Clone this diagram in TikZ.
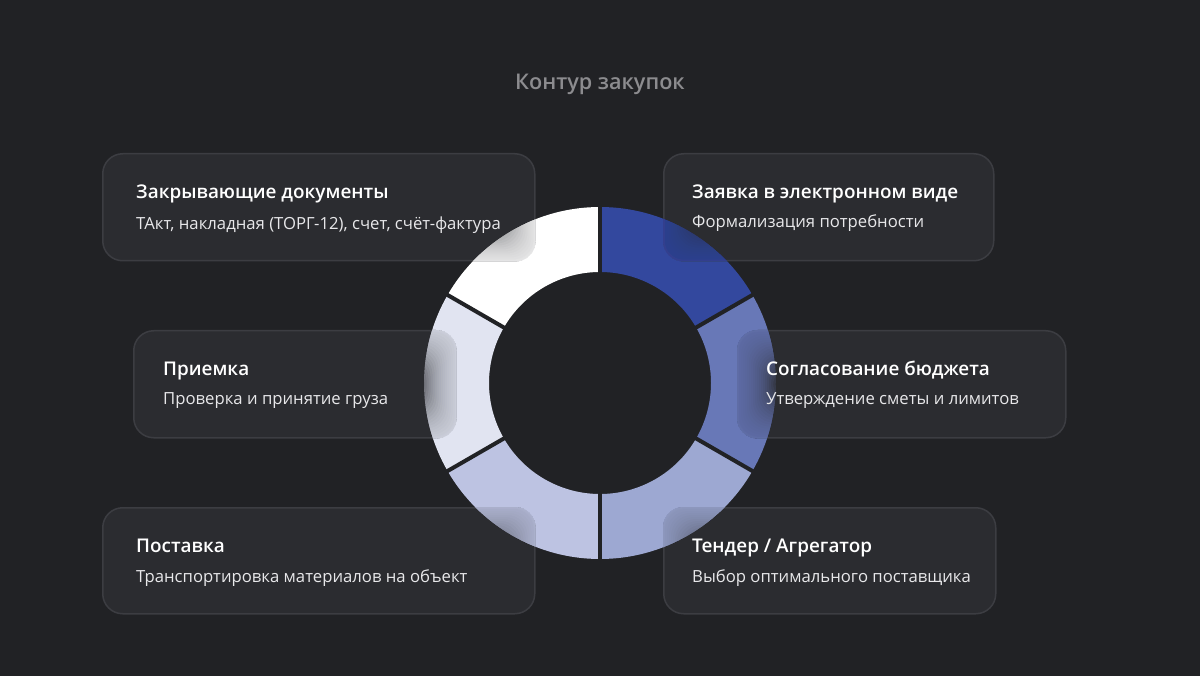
\documentclass[tikz,border=0pt]{standalone}
\usepackage{fontspec}
\setmainfont{Open Sans}
\IfFontExistsTF{Open Sans SemiBold}{\newfontfamily\semibold{Open Sans SemiBold}}{%
  \IfFontExistsTF{Open Sans Semibold}{\newfontfamily\semibold{Open Sans Semibold}}{%
    \newfontfamily\semibold{Open Sans}[UprightFont={* Bold}]}}
\usepackage{tikz}
\usetikzlibrary{positioning, calc}
\definecolor{bgdark}{HTML}{212225}
\definecolor{cardfill}{HTML}{2B2C30}
\definecolor{cardline}{HTML}{3C3D42}
\definecolor{subtext}{HTML}{E8E8EA}
\definecolor{headtext}{HTML}{8C8C8F}
\definecolor{segA}{HTML}{33489E}
\definecolor{segB}{HTML}{6878B7}
\definecolor{segC}{HTML}{9DA8D2}
\definecolor{segD}{HTML}{BDC3E2}
\definecolor{segE}{HTML}{E1E4F1}
\definecolor{segF}{HTML}{FFFFFF}
\tikzset{
    card/.style={
        rectangle,
        rounded corners=20pt,
        draw=cardline,
        line width=1.5pt,
        fill=cardfill,
        anchor=north west,
        inner sep=0pt
    },
    cardtitle/.style={
        anchor=base west,
        inner sep=0pt,
        text=white,
        font=\semibold\fontsize{18.9}{22}\selectfont
    },
    cardtext/.style={
        anchor=base west,
        inner sep=0pt,
        text=subtext,
        font=\fontsize{16.7}{20}\selectfont
    },
    heading/.style={
        anchor=base,
        inner sep=0pt,
        text=headtext,
        font=\semibold\fontsize{21.6}{25}\selectfont
    },
    gapline/.style={
        draw=bgdark,
        line width=4pt
    }
}
% ring of six segments
\newcommand{\drawdonut}{%
  \begin{scope}[shift={(600,383)}, yscale=-1]
    \foreach \a/\b/\c in {30/90/segA, -30/30/segB, -90/-30/segC, -150/-90/segD, 150/210/segE, 90/150/segF}
      \fill[\c] (\a:111) arc[start angle=\a, end angle=\b, radius=111] -- (\b:176) arc[start angle=\b, end angle=\a, radius=176] -- cycle;
    \foreach \a in {90,30,-30,-90,-150,150}
      \draw[gapline] (\a:109) -- (\a:178);
  \end{scope}}
% ring seen through the card edge
\newcommand{\cardfade}[1]{%
  \foreach \k in {1,...,20} {
    \begin{scope}[even odd rule, rounded corners=20pt]
      \clip (#1.north west) rectangle (#1.south east)
        ($(#1.north west)+(2*\k,2*\k)$) rectangle ($(#1.south east)-(2*\k,2*\k)$);
      \begin{scope}[opacity=0.1, sharp corners]
        \drawdonut
      \end{scope}
    \end{scope}
  }}
\begin{document}
\begin{tikzpicture}[x=1pt, y=-1pt]

% Background
\fill[bgdark] (0,0) rectangle (1200,676);
\useasboundingbox (0,0) rectangle (1200,676);

% Heading
\node[heading] (head) at (600,90) {Контур закупок};

% Ring
\drawdonut

% Cards
\node[card, minimum width=432, minimum height=107] (docs) at (102,153) {};
\cardfade{docs}
\node[card, minimum width=330, minimum height=107] (request) at (663,153) {};
\cardfade{request}
\node[card, minimum width=322, minimum height=107] (accept) at (133,330) {};
\cardfade{accept}
\node[card, minimum width=328, minimum height=107] (budget) at (737,330) {};
\cardfade{budget}
\node[card, minimum width=432, minimum height=106] (delivery) at (102,507) {};
\cardfade{delivery}
\node[card, minimum width=332, minimum height=106] (tender) at (663,507) {};
\cardfade{tender}

% Card texts
\node[cardtitle] (docs-title) at ($(docs.north west)+(34,46)$) {Закрывающие документы};
\node[cardtext] (docs-text) at ($(docs-title.base west)+(0,31)$) {ТАкт, накладная (ТОРГ-12), счет, счёт-фактура};
\node[cardtitle] (request-title) at ($(request.north west)+(29,46)$) {Заявка в электронном виде};
\node[cardtext] (request-text) at ($(request-title.base west)+(0,29)$) {Формализация потребности};
\node[cardtitle] (accept-title) at ($(accept.north west)+(30,46)$) {Приемка};
\node[cardtext] (accept-text) at ($(accept-title.base west)+(0,29)$) {Проверка и принятие груза};
\node[cardtitle] (budget-title) at ($(budget.north west)+(29,46)$) {Согласование бюджета};
\node[cardtext] (budget-text) at ($(budget-title.base west)+(0,29)$) {Утверждение сметы и лимитов};
\node[cardtitle] (delivery-title) at ($(delivery.north west)+(34,45)$) {Поставка};
\node[cardtext] (delivery-text) at ($(delivery-title.base west)+(0,30)$) {Транспортировка материалов на объект};
\node[cardtitle] (tender-title) at ($(tender.north west)+(29,45)$) {Тендер / Агрегатор};
\node[cardtext] (tender-text) at ($(tender-title.base west)+(0,30)$) {Выбор оптимального поставщика};

\end{tikzpicture}
\end{document}
